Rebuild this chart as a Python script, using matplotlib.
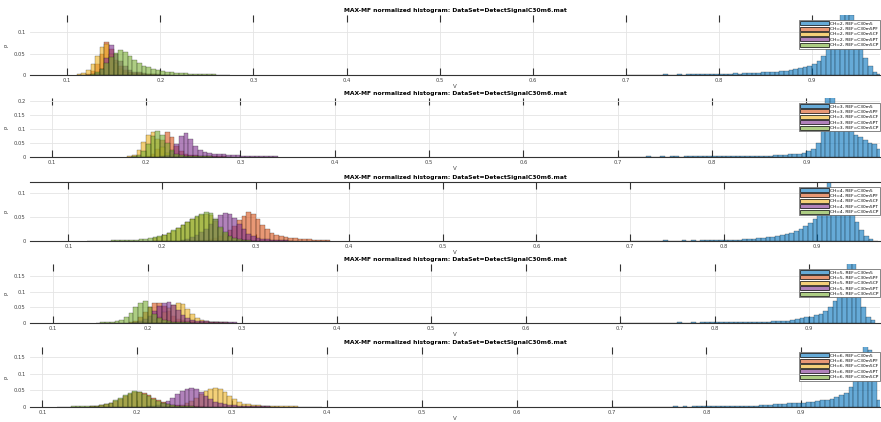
import matplotlib
matplotlib.use("Agg")
import matplotlib.pyplot as plt
from matplotlib.patches import Patch

TITLE = "MAX-MF normalized histogram: DataSet=DetectSignalC30m6.mat"
REFS = ["C30m5", "C30m5PF", "C30m5CF", "C30m5PT", "C30m5CP"]
CHANNELS = [2, 3, 4, 5, 6]
BIN = 0.005
X_TICKS = [0.1, 0.2, 0.3, 0.4, 0.5, 0.6, 0.7, 0.8, 0.9]

# ---- panel 1 (CH=2) ----
p1_starts = [0.700, 0.115, 0.110, 0.130, 0.120]
p1_blue = [0.001, 0.001, 0.001, 0.001, 0.001, 0.001, 0.001, 0.001, 0.002, 0.001,
           0.001, 0.002, 0.001, 0.002, 0.002, 0.002, 0.002, 0.002, 0.003, 0.002,
           0.003, 0.003, 0.003, 0.004, 0.003, 0.004, 0.004, 0.005, 0.005, 0.006,
           0.006, 0.007, 0.008, 0.009, 0.010, 0.012, 0.014, 0.016, 0.018, 0.021,
           0.025, 0.032, 0.045, 0.065, 0.090, 0.120, 0.150, 0.170, 0.140, 0.100,
           0.060, 0.040, 0.020, 0.008, 0.002]
p1_orange = [0.001, 0.003, 0.010, 0.025, 0.050, 0.076, 0.060, 0.035, 0.020, 0.012,
             0.008, 0.005, 0.004, 0.003, 0.002, 0.002, 0.001, 0.001, 0.001]
p1_yellow = [0.002, 0.005, 0.012, 0.025, 0.045, 0.065, 0.072, 0.050, 0.028, 0.015,
             0.008, 0.005, 0.003, 0.002, 0.001, 0.001]
p1_purple = [0.004, 0.015, 0.040, 0.070, 0.050, 0.032, 0.020, 0.012, 0.008, 0.006,
             0.004, 0.003, 0.002, 0.002, 0.001, 0.001]
p1_green = [0.001, 0.003, 0.007, 0.015, 0.028, 0.042, 0.052, 0.058, 0.054, 0.045,
            0.036, 0.028, 0.022, 0.018, 0.014, 0.011, 0.009, 0.007, 0.006, 0.005,
            0.004, 0.004, 0.003, 0.003, 0.002, 0.002, 0.002, 0.002, 0.001, 0.001, 0.001]

# ---- panel 2 (CH=3) ----
p2_starts = [0.700, 0.200, 0.180, 0.215, 0.185]
p2_blue = [0.001, 0.001, 0.001, 0.001, 0.001, 0.001, 0.002, 0.001, 0.001, 0.002,
           0.001, 0.002, 0.002, 0.001, 0.002, 0.002, 0.002, 0.002, 0.002, 0.003,
           0.002, 0.003, 0.002, 0.003, 0.003, 0.003, 0.003, 0.003, 0.004, 0.003,
           0.003, 0.004, 0.005, 0.006, 0.007, 0.008, 0.009, 0.010, 0.012, 0.015,
           0.020, 0.030, 0.050, 0.120, 0.250, 0.250, 0.150, 0.130, 0.110, 0.100,
           0.080, 0.070, 0.060, 0.050, 0.045, 0.030, 0.020]
p2_orange = [0.003, 0.010, 0.030, 0.060, 0.089, 0.070, 0.040, 0.020, 0.012, 0.008,
             0.006, 0.005, 0.004, 0.003, 0.003, 0.002, 0.002, 0.001]
p2_yellow = [0.002, 0.008, 0.025, 0.055, 0.080, 0.089, 0.065, 0.035, 0.015, 0.008,
             0.005, 0.004, 0.003, 0.002, 0.002, 0.001]
p2_purple = [0.003, 0.008, 0.020, 0.045, 0.075, 0.086, 0.065, 0.040, 0.025, 0.018,
             0.014, 0.012, 0.010, 0.009, 0.008, 0.007, 0.006, 0.005, 0.005, 0.004,
             0.004, 0.003, 0.003, 0.002, 0.002]
p2_green = [0.002, 0.006, 0.020, 0.045, 0.075, 0.093, 0.080, 0.050, 0.025, 0.012,
            0.007, 0.005, 0.004, 0.003, 0.003, 0.002, 0.002, 0.001]

# ---- panel 3 (CH=4) ----
p3_starts = [0.700, 0.240, 0.190, 0.220, 0.120]
p3_blue = [0.001, 0.001, 0.001, 0.001, 0.001, 0.001, 0.001, 0.002, 0.001, 0.001,
           0.001, 0.002, 0.001, 0.002, 0.001, 0.002, 0.002, 0.002, 0.002, 0.002,
           0.002, 0.002, 0.003, 0.003, 0.004, 0.004, 0.005, 0.006, 0.007, 0.008,
           0.009, 0.010, 0.012, 0.014, 0.017, 0.021, 0.026, 0.031, 0.037, 0.045,
           0.060, 0.090, 0.130, 0.110, 0.095, 0.085, 0.075, 0.060, 0.040, 0.022,
           0.010, 0.004, 0.001]
p3_orange = [0.002, 0.003, 0.005, 0.007, 0.010, 0.015, 0.022, 0.032, 0.043, 0.053,
             0.060, 0.057, 0.046, 0.034, 0.024, 0.017, 0.012, 0.010, 0.008, 0.007,
             0.006, 0.005, 0.004, 0.004, 0.003, 0.003, 0.002, 0.002]
p3_yellow = [0.006, 0.009, 0.012, 0.016, 0.021, 0.027, 0.033, 0.039, 0.045, 0.051,
             0.055, 0.057, 0.054, 0.042, 0.028, 0.016, 0.009, 0.005, 0.003, 0.002, 0.001]
p3_purple = [0.003, 0.005, 0.008, 0.012, 0.018, 0.026, 0.036, 0.046, 0.054, 0.058,
             0.056, 0.048, 0.036, 0.024, 0.015, 0.010, 0.007, 0.005, 0.004, 0.003,
             0.003, 0.002, 0.002, 0.001]
p3_green = [0.001, 0.001, 0.001, 0.001, 0.001, 0.002, 0.002, 0.002, 0.002, 0.003,
            0.003, 0.004, 0.005, 0.006, 0.008, 0.010, 0.013, 0.017, 0.022, 0.028,
            0.034, 0.040, 0.046, 0.052, 0.057, 0.060, 0.058, 0.045, 0.030, 0.018,
            0.010, 0.006, 0.004, 0.003, 0.002, 0.001]

# ---- panel 4 (CH=5) ----
p4_starts = [0.700, 0.180, 0.195, 0.185, 0.145]
p4_blue = [0.001, 0.001, 0.001, 0.001, 0.001, 0.001, 0.001, 0.001, 0.001, 0.001,
           0.001, 0.001, 0.002, 0.001, 0.001, 0.002, 0.001, 0.002, 0.002, 0.002,
           0.002, 0.002, 0.002, 0.002, 0.003, 0.002, 0.003, 0.003, 0.003, 0.003,
           0.003, 0.004, 0.005, 0.006, 0.007, 0.008, 0.010, 0.012, 0.015, 0.018,
           0.020, 0.025, 0.030, 0.040, 0.050, 0.070, 0.100, 0.150, 0.220, 0.200,
           0.120, 0.050, 0.020, 0.010]
p4_orange = [0.003, 0.008, 0.018, 0.035, 0.052, 0.063, 0.065, 0.055, 0.038, 0.022,
             0.013, 0.009, 0.007, 0.005, 0.004, 0.003, 0.003, 0.002, 0.002, 0.001]
p4_yellow = [0.002, 0.005, 0.010, 0.020, 0.034, 0.048, 0.058, 0.065, 0.060, 0.045,
             0.028, 0.016, 0.009, 0.006, 0.004, 0.003, 0.002, 0.002, 0.001]
p4_purple = [0.003, 0.006, 0.012, 0.024, 0.040, 0.055, 0.064, 0.067, 0.058, 0.042,
             0.026, 0.016, 0.011, 0.008, 0.006, 0.005, 0.004, 0.004, 0.003, 0.003,
             0.002, 0.002]
p4_green = [0.001, 0.002, 0.003, 0.004, 0.006, 0.010, 0.018, 0.032, 0.050, 0.066,
            0.070, 0.052, 0.030, 0.016, 0.009, 0.006, 0.004, 0.003, 0.002, 0.002, 0.001]

# ---- panel 5 (CH=6) ----
p5_starts = [0.700, 0.150, 0.235, 0.210, 0.115]
p5_blue = [0.001, 0.001, 0.001, 0.001, 0.001, 0.001, 0.001, 0.001, 0.001, 0.001,
           0.001, 0.001, 0.001, 0.002, 0.001, 0.002, 0.001, 0.002, 0.002, 0.002,
           0.002, 0.002, 0.002, 0.003, 0.002, 0.003, 0.003, 0.003, 0.003, 0.004,
           0.004, 0.005, 0.006, 0.007, 0.008, 0.009, 0.010, 0.011, 0.012, 0.012,
           0.013, 0.014, 0.016, 0.018, 0.020, 0.022, 0.025, 0.030, 0.036, 0.042,
           0.060, 0.110, 0.160, 0.190, 0.170, 0.080, 0.020]
p5_orange = [0.002, 0.003, 0.005, 0.008, 0.012, 0.018, 0.025, 0.032, 0.039, 0.044,
             0.045, 0.042, 0.036, 0.028, 0.020, 0.014, 0.010, 0.007, 0.005, 0.004,
             0.003, 0.003, 0.002, 0.002, 0.001]
p5_yellow = [0.002, 0.004, 0.007, 0.012, 0.019, 0.028, 0.038, 0.047, 0.054, 0.057,
             0.053, 0.044, 0.033, 0.023, 0.015, 0.010, 0.008, 0.006, 0.005, 0.004,
             0.004, 0.003, 0.003, 0.002, 0.002, 0.002, 0.002, 0.001, 0.001, 0.001,
             0.001, 0.001]
p5_purple = [0.002, 0.004, 0.007, 0.012, 0.019, 0.028, 0.038, 0.048, 0.055, 0.058,
             0.054, 0.045, 0.034, 0.024, 0.016, 0.011, 0.008, 0.006, 0.005, 0.004,
             0.004, 0.003, 0.003, 0.002, 0.002, 0.002, 0.001, 0.001]
p5_green = [0.001, 0.001, 0.001, 0.002, 0.002, 0.002, 0.003, 0.003, 0.004, 0.005,
            0.008, 0.013, 0.020, 0.028, 0.036, 0.043, 0.048, 0.046, 0.040, 0.032,
            0.024, 0.017, 0.012, 0.008, 0.006, 0.004, 0.003, 0.002, 0.002, 0.001]

panels = [
    (p1_starts, [p1_blue, p1_orange, p1_yellow, p1_purple, p1_green]),
    (p2_starts, [p2_blue, p2_orange, p2_yellow, p2_purple, p2_green]),
    (p3_starts, [p3_blue, p3_orange, p3_yellow, p3_purple, p3_green]),
    (p4_starts, [p4_blue, p4_orange, p4_yellow, p4_purple, p4_green]),
    (p5_starts, [p5_blue, p5_orange, p5_yellow, p5_purple, p5_green]),
]

# layout (pixel geometry of each axes: top, bottom) and limits
W, H = 881, 422
axes_px = [(15, 75), (98, 157), (182, 241), (264, 323), (347, 407)]
xlims = [(0.060, 0.973), (0.077, 0.978), (0.059, 0.967), (0.0755, 0.975), (0.087, 0.983)]
ylims = [0.14, 0.21, 0.123, 0.19, 0.18]
yticks = [[0, 0.05, 0.1], [0, 0.05, 0.1, 0.15, 0.2], [0, 0.05, 0.1],
          [0, 0.05, 0.1, 0.15], [0, 0.05, 0.1, 0.15]]

matlab = [(0.000, 0.447, 0.741), (0.850, 0.325, 0.098), (0.929, 0.694, 0.125),
          (0.494, 0.184, 0.556), (0.466, 0.674, 0.188)]
faces = [(r, g, b, 0.6) for (r, g, b) in matlab]
edge = (0.0, 0.0, 0.0, 0.55)

fig = plt.figure(figsize=(W / 100, H / 100), dpi=100)
left_px = 30
for i, (starts, series) in enumerate(panels):
    top, bot = axes_px[i]
    ax = fig.add_axes([left_px / W, 1 - bot / H, (W - left_px - 1) / W, (bot - top) / H])
    for k, (s0, vals) in enumerate(zip(starts, series)):
        xs = [s0 + j * BIN for j in range(len(vals))]
        ax.bar(xs, vals, width=BIN, align="edge", color=faces[k],
               edgecolor=edge, linewidth=0.3, zorder=2)
    ax.set_xlim(*xlims[i])
    ax.set_ylim(0, ylims[i])
    ax.set_xticks(X_TICKS)
    ax.set_xticklabels([f"{t:g}" for t in X_TICKS])
    ax.set_yticks(yticks[i])
    ax.set_yticklabels([f"{t:g}" for t in yticks[i]])
    ax.grid(True, color="#e4e4e4", linewidth=0.6, zorder=0)
    ax.set_axisbelow(True)
    ax.tick_params(axis="x", direction="in", length=5, width=0.8, colors="#333333",
                   labelsize=3.8, pad=2, top=True, labelcolor="#444444")
    ax.tick_params(axis="y", direction="out", length=0, labelsize=3.8, pad=3,
                   labelcolor="#444444")
    for side in ["left", "right", "top"]:
        ax.spines[side].set_visible(False)
    ax.spines["bottom"].set_color("#333333")
    ax.spines["bottom"].set_linewidth(0.8)
    if i == 2:
        ax.spines["top"].set_visible(True)
        ax.spines["top"].set_color("#333333")
        ax.spines["top"].set_linewidth(0.8)
    ax.set_title(TITLE, fontsize=4.3, fontweight="bold", pad=2)
    ax.set_xlabel("V", fontsize=4, labelpad=1, color="#444444")
    ax.set_ylabel("P", fontsize=4, labelpad=3, color="#444444")
    handles = [Patch(facecolor=faces[k], edgecolor="black", linewidth=0.5)
               for k in range(5)]
    labels = [f"CH={CHANNELS[i]}, REF={r}" for r in REFS]
    leg = ax.legend(handles, labels, loc="upper right", bbox_to_anchor=(1.0, 0.92),
                    fontsize=3.2, handlelength=6.5, handleheight=1.0,
                    labelspacing=0.2, borderpad=0.3, handletextpad=0.3,
                    borderaxespad=0.0, framealpha=1, fancybox=False,
                    edgecolor="#555555")
    leg.get_frame().set_linewidth(0.5)

fig.savefig("out.png", dpi=100)
